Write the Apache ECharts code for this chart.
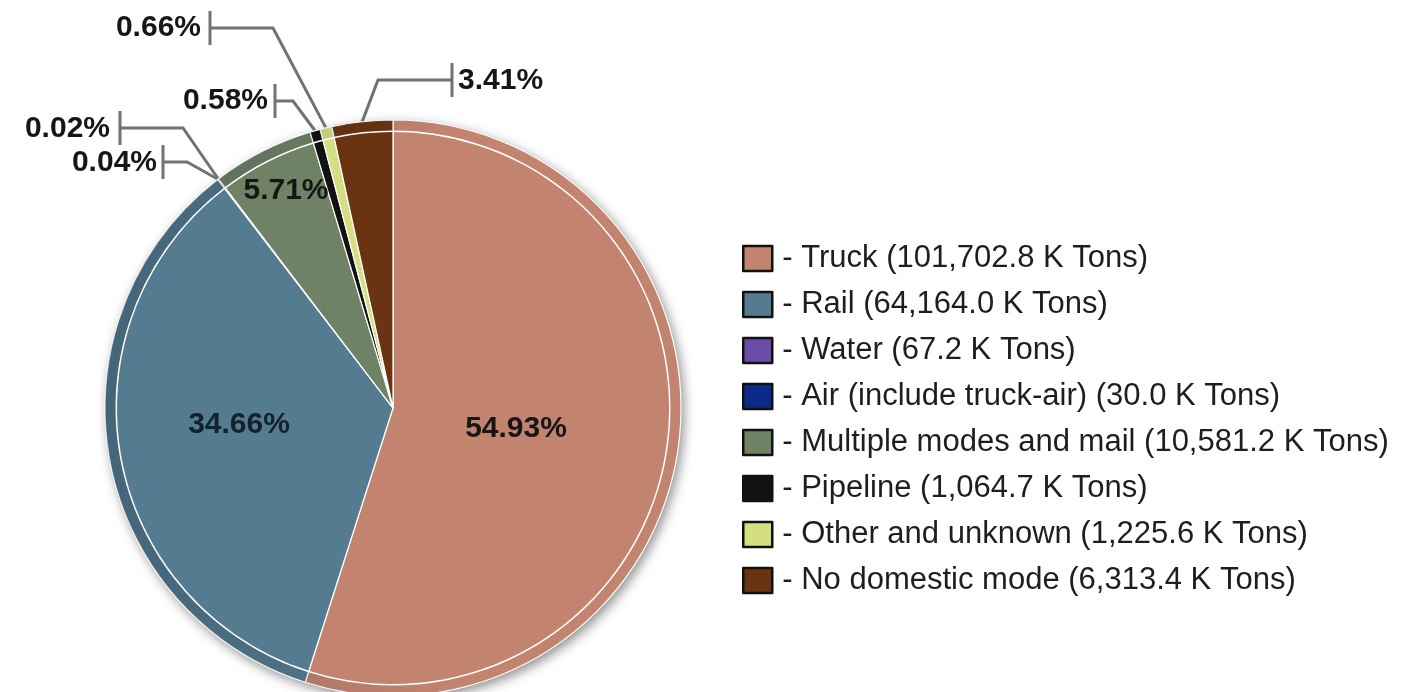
<!DOCTYPE html>
<html>
<head>
<meta charset="utf-8">
<script src="https://cdn.jsdelivr.net/npm/echarts@6/dist/echarts.min.js"></script>
<style>
  html, body { margin: 0; padding: 0; background: #ffffff; }
  #pie { width: 1405px; height: 692px; }
</style>
</head>
<body>
<div id="pie"></div>
<script>
const modes = ['Truck', 'Rail', 'Water', 'Air (include truck-air)', 'Multiple modes and mail', 'Pipeline', 'Other and unknown', 'No domestic mode'];
const tons = [101702.8, 64164.0, 67.2, 30.0, 10581.2, 1064.7, 1225.6, 6313.4];
const modeColors = ['#c2836f', '#557b91', '#6b4ba6', '#0b2a8a', '#6f8266', '#121212', '#d3df80', '#6a3311'];

const total = tons.reduce((a, b) => a + b, 0);
const pct = v => (v / total * 100).toFixed(2) + '%';
const fmtTons = v => v.toLocaleString('en-US', { minimumFractionDigits: 1, maximumFractionDigits: 1 });

// label spots: inner ones are just a centre, outer ones get the tick bar x and the elbow of the leader
const labelSpots = [
  { x: 516, y: 429 },
  { x: 239, y: 425 },
  { x: 157, y: 163, align: 'right', bar: 163, bend: [187, 162] },
  { x: 110, y: 129, align: 'right', bar: 120, bend: [183, 128] },
  { x: 286, y: 191 },
  { x: 268, y: 101, align: 'right', bar: 275, bend: [293, 101] },
  { x: 201, y: 28, align: 'right', bar: 210, bend: [273, 28] },
  { x: 458, y: 81, align: 'left', bar: 452, bend: [378, 80] }
];
const insideIdx = [0, 1, 4];

const center = [393, 408];
const R = 288;

let chart = echarts.init(document.getElementById('pie'));

let option = {
  backgroundColor: '#ffffff',
  animation: false,
  legend: {
    orient: 'vertical',
    left: 742,
    top: 243,
    padding: 0,
    icon: 'rect',
    itemWidth: 29,
    itemHeight: 25,
    itemGap: 15,
    selectedMode: false,
    data: modes,
    itemStyle: { borderColor: '#111111', borderWidth: 2.5 },
    textStyle: {
      fontFamily: 'Liberation Sans, Arial, sans-serif',
      fontSize: 31,
      lineHeight: 28,
      color: '#1e1e1e',
      padding: [0, 0, 0, 5]
    },
    formatter: name => '- ' + name + ' (' + fmtTons(tons[modes.indexOf(name)]) + ' K Tons)'
  },
  series: [
    {
      // the real pie
      type: 'pie',
      z: 3,
      center: center,
      radius: R,
      startAngle: 90,
      clockwise: true,
      avoidLabelOverlap: false,
      itemStyle: { borderColor: '#ffffff', borderWidth: 1.2 },
      emphasis: { disabled: true },
      label: {
        show: true,
        position: 'outside',
        formatter: p => pct(p.value),
        fontFamily: 'Liberation Sans, Arial, sans-serif',
        fontSize: 30,
        fontWeight: 'bold',
        color: '#161616'
      },
      labelLine: {
        show: true,
        length: 10,
        length2: 10,
        lineStyle: { color: '#727272', width: 3 }
      },
      labelLayout: function (p) {
        const s = labelSpots[p.dataIndex];
        let out = { x: s.x, y: s.y, align: s.align || 'center', verticalAlign: 'middle' };
        if (s.bar) {
          const start = p.labelLinePoints ? p.labelLinePoints[0] : s.bend;
          out.labelLinePoints = [
            start,
            s.bend,
            [s.bar, s.bend[1]],
            [s.bar, s.bend[1] - 17],
            [s.bar, s.bend[1] + 17]
          ];
        }
        return out;
      },
      data: modes.map((m, i) => {
        let d = { name: m, value: tons[i], itemStyle: { color: modeColors[i] } };
        if (insideIdx.indexOf(i) >= 0) {
          d.label = { position: 'inside', color: i === 1 ? '#13202e' : '#161616' };
          d.labelLine = { show: false };
        }
        return d;
      })
    },
    {
      // soft drop shadow under the disc
      type: 'pie',
      z: 1,
      silent: true,
      center: center,
      radius: R,
      startAngle: 90,
      itemStyle: {
        color: '#6f6f6f',
        shadowBlur: 12,
        shadowColor: 'rgba(0,0,0,0.45)',
        shadowOffsetX: 3,
        shadowOffsetY: 4
      },
      label: { show: false },
      labelLine: { show: false },
      data: tons
    },
    {
      // darker bevel on the left half of the rim
      type: 'pie',
      z: 4,
      silent: true,
      center: center,
      radius: [R - 11, R],
      startAngle: 90,
      itemStyle: {
        borderWidth: 0,
        color: {
          type: 'linear', global: true,
          x: center[0] - R, y: 0, x2: center[0] + 60, y2: 0,
          colorStops: [
            { offset: 0, color: 'rgba(10,20,30,0.22)' },
            { offset: 1, color: 'rgba(10,20,30,0)' }
          ]
        }
      },
      label: { show: false },
      labelLine: { show: false },
      data: tons
    },
    {
      // thin white ring just inside the rim
      type: 'pie',
      z: 5,
      silent: true,
      center: center,
      radius: [R - 12, R - 10.5],
      startAngle: 90,
      itemStyle: { color: '#ffffff', borderWidth: 0 },
      label: { show: false },
      labelLine: { show: false },
      data: tons
    }
  ]
};

chart.setOption(option);
</script>
</body>
</html>
